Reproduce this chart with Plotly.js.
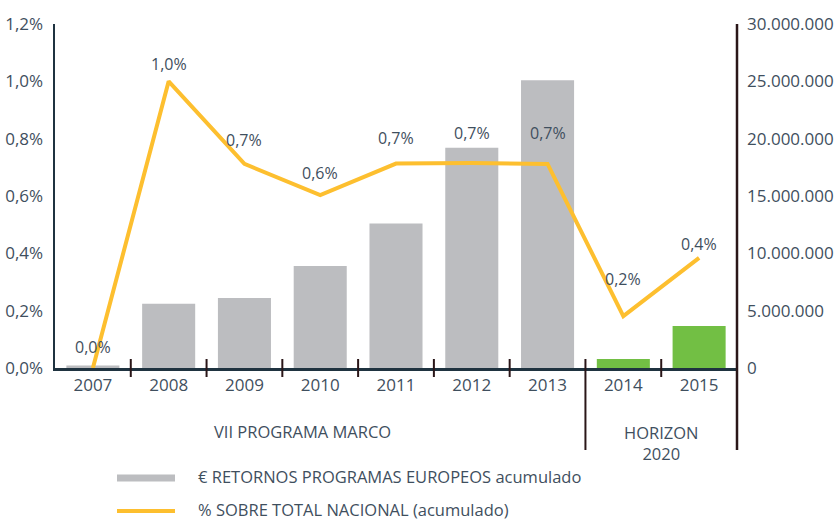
<!DOCTYPE html>
<html>
<head>
<meta charset="utf-8">
<script src="https://cdn.plot.ly/plotly-3.0.1.min.js"></script>
<style>
  html, body { margin: 0; padding: 0; background: #ffffff; }
  #chart { width: 838px; height: 521px; }
</style>
</head>
<body>
<div id="chart"></div>
<script>
// ---- DATA ----
const years = ['2007', '2008', '2009', '2010', '2011', '2012', '2013', '2014', '2015'];
const programa = ['VII', 'VII', 'VII', 'VII', 'VII', 'VII', 'VII', 'H2020', 'H2020'];
const retornos = [220000, 5600000, 6100000, 8900000, 12600000, 19200000, 25100000, 780000, 3660000];
const porcentaje = [0.000, 0.010, 0.00712, 0.00603, 0.00713, 0.00715, 0.00712, 0.00181, 0.00384];
const etiquetas = ['0,0%', '1,0%', '0,7%', '0,6%', '0,7%', '0,7%', '0,7%', '0,2%', '0,4%'];
const nombreBarras = '€ RETORNOS PROGRAMAS EUROPEOS acumulado';
const nombreLinea = '% SOBRE TOTAL NACIONAL (acumulado)';
const grupoVII = 'VII PROGRAMA MARCO';
const grupoH2020 = 'HORIZON<br>2020';

// ---- STYLE ----
const W = 838, H = 521;
const M = {l: 55, r: 101, t: 24, b: 153};
const PW = W - M.l - M.r, PH = H - M.t - M.b;
const px2x = p => (p - M.l) / PW;
const py2y = p => (H - M.b - p) / PH;
const FONT = 'Open Sans, Noto Sans, sans-serif';
const TXT = '#3f4f5e';
const AXIS = '#1f3340';
const TICK = '#2a1618';
const colorPrograma = {VII: '#bcbdc0', H2020: '#72bf44'};
const labelShift = [21, 17, 24, 22, 26, 30, 31, 37, 14];

const bars = {
  type: 'bar', x: years, y: retornos, yaxis: 'y',
  marker: {color: programa.map(p => colorPrograma[p])},
  name: nombreBarras, showlegend: false, hoverinfo: 'x+y'
};
const line = {
  type: 'scatter', mode: 'lines', x: years, y: porcentaje, yaxis: 'y2',
  line: {color: '#fdbf2f', width: 4}, name: nombreLinea, showlegend: false
};

const annotations = years.map((yr, i) => ({
  x: i, y: porcentaje[i], xref: 'x', yref: 'y2', text: etiquetas[i],
  xanchor: 'center', yanchor: 'middle',
  showarrow: false, yshift: labelShift[i], font: {family: FONT, size: 16, color: TXT}
}));
const paperNote = (x, y, text, xanchor) => ({
  x: px2x(x), y: py2y(y), xref: 'paper', yref: 'paper', text: text, showarrow: false,
  xanchor: xanchor, yanchor: 'middle', borderpad: 0, font: {family: FONT, size: 16.5, color: TXT}
});
annotations.push(
  paperNote(302, 432, grupoVII, 'center'),
  paperNote(661, 443, grupoH2020, 'center'),
  paperNote(197, 477, nombreBarras, 'left'),
  paperNote(197, 509, nombreLinea, 'left')
);

const shapes = [];
for (let i = 0; i < years.length - 1; i++) {
  const sep = programa[i] !== programa[i + 1];
  shapes.push({type: 'line', xref: 'x', yref: 'paper', x0: i + 0.5, x1: i + 0.5,
    y0: sep ? py2y(450) : py2y(377), y1: py2y(359), line: {color: TICK, width: 2}});
}
shapes.push({type: 'line', xref: 'paper', yref: 'paper', x0: 1, x1: 1, y0: py2y(450), y1: 1,
  line: {color: TICK, width: 2.5}});
shapes.push({type: 'line', xref: 'paper', yref: 'paper', x0: px2x(117), x1: px2x(175),
  y0: py2y(478), y1: py2y(478), line: {color: '#bcbdc0', width: 7}});
shapes.push({type: 'line', xref: 'paper', yref: 'paper', x0: px2x(117), x1: px2x(175),
  y0: py2y(511), y1: py2y(511), line: {color: '#fdbf2f', width: 4}});

const layout = {
  width: W, height: H, margin: M,
  paper_bgcolor: '#ffffff', plot_bgcolor: 'rgba(0,0,0,0)',
  separators: ',.', showlegend: false, bargap: 0.3,
  font: {family: FONT, size: 16, color: TXT},
  xaxis: {type: 'category', range: [-0.5, years.length - 0.5], showline: true,
    linecolor: AXIS, linewidth: 2.5, ticks: '', showgrid: false, zeroline: false,
    tickfont: {family: FONT, size: 17, color: TXT}, fixedrange: true},
  yaxis: {side: 'right', range: [0, 30000000], dtick: 5000000, tickformat: ',.0f',
    showgrid: false, zeroline: false, showline: false, ticks: '',
    tickfont: {family: FONT, size: 17, color: TXT}, ticklabelstandoff: 9},
  yaxis2: {side: 'left', overlaying: 'y', range: [0, 0.012], dtick: 0.002, tickformat: '.1%',
    showgrid: false, zeroline: false, showline: true, linecolor: AXIS, linewidth: 2.5, ticks: '',
    tickfont: {family: FONT, size: 17, color: TXT}, ticklabelstandoff: 6},
  annotations: annotations, shapes: shapes
};

Plotly.newPlot('chart', [bars, line], layout, {displayModeBar: false, staticPlot: true});
</script>
</body>
</html>
